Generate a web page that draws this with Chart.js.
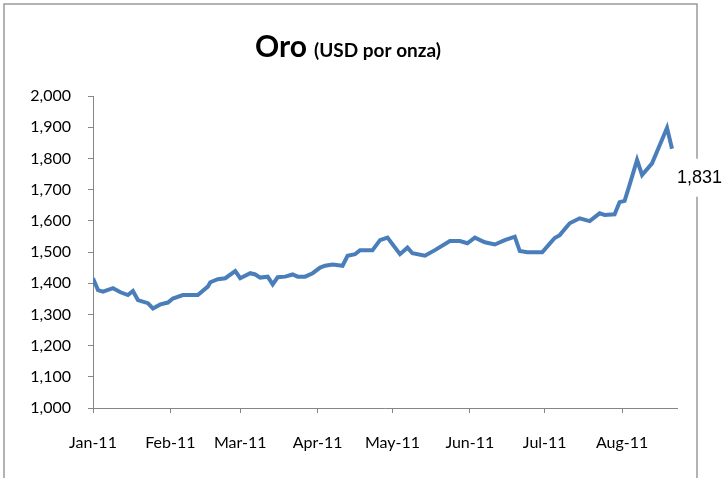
<!DOCTYPE html>
<html>
<head>
<meta charset="utf-8">
<script src="https://cdn.jsdelivr.net/npm/chart.js@4/dist/chart.umd.min.js"></script>
<style>
  body { margin: 0; background: #fff; }
  canvas { display: block; }
</style>
</head>
<body>
<canvas id="goldChart" width="722" height="478"></canvas>
<script>
// day of year 2011 (0 = 1 Jan) and gold price, USD per ounce
const days = [0, 2, 4, 8, 11, 14, 16, 18, 22, 24, 27, 30, 32, 36, 42, 46, 47, 50, 53, 57,
  59, 63, 65, 67, 70, 72, 74, 77, 80, 82, 85, 88, 91, 93, 96, 100, 102, 105, 107, 112,
  115, 118, 123, 126, 128, 133, 137, 143, 147, 150, 153, 157, 161, 165, 169, 171, 174, 180, 183, 185,
  187, 191, 195, 199, 203, 205, 209, 211, 213, 215, 218, 220, 224, 230, 232];
const prices = [1416, 1378, 1373, 1384, 1371, 1362, 1375, 1346, 1336, 1319, 1332, 1338, 1351, 1362, 1362, 1389, 1403, 1413, 1416, 1439,
  1416, 1432, 1428, 1418, 1421, 1396, 1419, 1421, 1428, 1421, 1421, 1432, 1450, 1456, 1460, 1456, 1488, 1493, 1506, 1506,
  1538, 1546, 1493, 1514, 1496, 1488, 1506, 1535, 1535, 1528, 1546, 1531, 1524, 1538, 1549, 1503, 1499, 1499, 1527, 1545,
  1554, 1592, 1608, 1599, 1624, 1619, 1621, 1660, 1664, 1715, 1795, 1747, 1784, 1898, 1831];

const monthStarts = [0, 31, 59, 90, 120, 151, 181, 212];
const monthLabels = ['Jan-11', 'Feb-11', 'Mar-11', 'Apr-11', 'May-11', 'Jun-11', 'Jul-11', 'Aug-11'];
const lastDay = 234;

const titleMain = 'Oro';
const titleSub = '(USD por onza)';

const axisGray = '#868686';
const lineBlue = '#4A7EBB';
const fontFamily = 'Lato, "Open Sans", sans-serif';

const fmt = (v) => Number(v).toLocaleString('en-US');

const decor = {
  id: 'decor',
  beforeDraw(chart) {
    const ctx = chart.ctx;
    ctx.save();
    ctx.fillStyle = '#fff';
    ctx.fillRect(0, 0, chart.width, chart.height);
    ctx.strokeStyle = '#9a9a9a';
    ctx.lineWidth = 1.5;
    ctx.strokeRect(4, 4, 693, chart.height + 10);
    ctx.restore();
  },
  afterDraw(chart) {
    const ctx = chart.ctx;
    ctx.save();
    // title, two sizes on one baseline
    ctx.fillStyle = '#000';
    ctx.textBaseline = 'alphabetic';
    ctx.font = `bold 30px ${fontFamily}`;
    const w1 = ctx.measureText(titleMain).width;
    ctx.font = `bold 19px ${fontFamily}`;
    const w2 = ctx.measureText(titleSub).width;
    const gap = 7;
    const x0 = 348 - (w1 + gap + w2) / 2;
    ctx.font = `bold 30px ${fontFamily}`;
    ctx.fillText(titleMain, x0, 57);
    ctx.font = `bold 19px ${fontFamily}`;
    ctx.fillText(titleSub, x0 + w1 + gap, 57);

    // value label at the last point
    const meta = chart.getDatasetMeta(0);
    const pt = meta.data[meta.data.length - 1];
    const txt = fmt(prices[prices.length - 1]);
    const lx = pt.x + 5;
    const ly = pt.y + 29;
    ctx.font = '18px "Liberation Sans", Arial, sans-serif';
    const tw = ctx.measureText(txt).width;
    ctx.fillStyle = '#fff';
    ctx.fillRect(lx - 3, ly - 19, tw + 8, 38);
    ctx.fillStyle = '#000';
    ctx.textBaseline = 'middle';
    ctx.fillText(txt, lx, ly);
    ctx.restore();
  }
};

new Chart(document.getElementById('goldChart'), {
  type: 'line',
  data: {
    datasets: [{
      data: days.map((d, i) => ({ x: d, y: prices[i] })),
      borderColor: lineBlue,
      borderWidth: 4,
      pointRadius: 0,
      tension: 0,
      fill: false,
    }],
  },
  options: {
    responsive: false,
    animation: false,
    layout: { padding: { top: 96, right: 45, bottom: 0, left: 0 } },
    plugins: { legend: { display: false }, tooltip: { enabled: false }, title: { display: false } },
    scales: {
      x: {
        type: 'linear',
        min: 0,
        max: lastDay,
        afterBuildTicks: (s) => { s.ticks = monthStarts.map((v) => ({ value: v })); },
        afterFit: (s) => { s.height = 70; },
        grid: { drawOnChartArea: false, drawTicks: true, tickLength: 5, color: axisGray },
        border: { display: true, color: axisGray, width: 1 },
        ticks: {
          autoSkip: false,
          maxRotation: 0,
          padding: 20,
          color: '#000',
          font: { family: fontFamily, size: 16 },
          callback: (v) => monthLabels[monthStarts.indexOf(v)],
        },
      },
      y: {
        min: 1000,
        max: 2000,
        afterFit: (s) => { s.width = 93; },
        grid: { drawOnChartArea: false, drawTicks: true, tickLength: 5, color: axisGray },
        border: { display: true, color: axisGray, width: 1 },
        ticks: {
          stepSize: 100,
          padding: 17,
          color: '#000',
          font: { family: fontFamily, size: 16 },
          callback: (v) => fmt(v),
        },
      },
    },
  },
  plugins: [decor],
});
</script>
</body>
</html>
